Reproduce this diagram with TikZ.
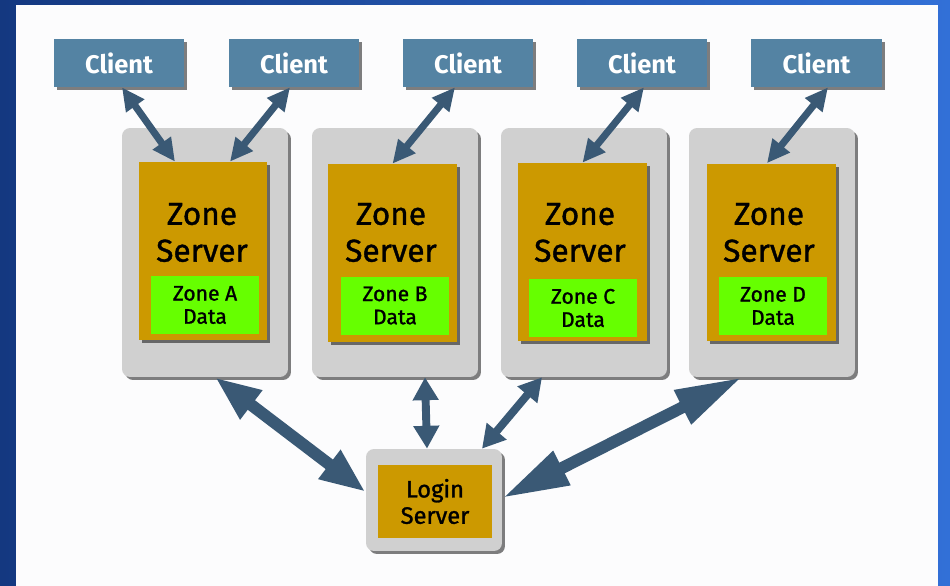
\documentclass[tikz,border=0pt]{standalone}
\usepackage{fontspec}
\setmainfont{Fira Sans}
\newfontfamily\medfont[FakeBold=1.2]{Fira Sans}
\usetikzlibrary{arrows.meta,shadows}
\definecolor{bgdark}{RGB}{20,56,128}
\definecolor{bglight}{RGB}{50,112,215}
\definecolor{clientblue}{RGB}{84,131,163}
\definecolor{arrowblue}{RGB}{58,89,117}
\definecolor{zoneorange}{RGB}{204,153,0}
\definecolor{zonegreen}{RGB}{102,255,0}
\definecolor{panelgray}{RGB}{208,208,208}
\definecolor{paper}{RGB}{252,252,253}
\begin{document}
\begin{tikzpicture}[x=0.02cm,y=-0.02cm,
  shad/.style={drop shadow={shadow xshift=0.06cm,shadow yshift=-0.06cm,opacity=0.5,fill=black}},
  client/.style={shad,fill=clientblue,text=white,inner sep=0pt,minimum width=2.62cm,minimum height=0.96cm,font=\bfseries\fontsize{14.5}{17}\selectfont},
  panel/.style={shad,fill=panelgray,rounded corners=0.16cm,minimum width=3.32cm,minimum height=4.98cm,inner sep=0pt},
  server/.style={shad,fill=zoneorange,minimum width=2.58cm,minimum height=3.56cm,inner sep=0pt},
  zonetext/.style={align=center,inner sep=0pt,text=black,font=\medfont\fontsize{18}{21}\selectfont},
  zonedata/.style={fill=zonegreen,minimum width=2.18cm,minimum height=1.16cm,inner sep=0pt,align=center,font=\medfont\fontsize{12}{13.2}\selectfont},
  loginpanel/.style={shad,fill=panelgray,rounded corners=0.16cm,minimum width=2.72cm,minimum height=2.04cm,inner sep=0pt},
  loginserver/.style={fill=zoneorange,minimum width=2.28cm,minimum height=1.46cm,inner sep=0pt,align=center,font=\medfont\fontsize{13.5}{15}\selectfont},
  link/.style={draw=arrowblue,line width=4pt,arrows={Triangle[length=13pt,width=12pt]-Triangle[length=13pt,width=12pt]}},
  midlink/.style={draw=arrowblue,line width=4.5pt,arrows={Triangle[length=13pt,width=14pt]-Triangle[length=13pt,width=14pt]}},
  biglink/.style={draw=arrowblue,line width=6.8pt,arrows={Triangle[length=26pt,width=19pt]-Triangle[length=26pt,width=19pt]}},
  hugelink/.style={draw=arrowblue,line width=6.8pt,arrows={Triangle[length=38pt,width=20pt]-Triangle[length=38pt,width=20pt]}}
]
\useasboundingbox (0,0) rectangle (950,585);
\shade[left color=bgdark,right color=bglight] (0,0) rectangle (950,585);
\fill[paper] (16,5) rectangle (938,592);

% clients
\node[client] (c1) at (119,63) {Client};
\node[client] (c2) at (294,63) {Client};
\node[client] (c3) at (468,63) {Client};
\node[client] (c4) at (642,63) {Client};
\node[client] (c5) at (816.5,63) {Client};

% zone panels
\node[panel] (pA) at (205,252.5) {};
\node[panel] (pB) at (395,252.5) {};
\node[panel] (pC) at (584,252.5) {};
\node[panel] (pD) at (772,252.5) {};

\node[server] (sA) at (203,251) {};
\node[server] (sB) at (392.5,253) {};
\node[server] (sC) at (582.5,252) {};
\node[server] (sD) at (771.5,252.5) {};

\node[zonetext] (tA) at (202,232.5) {Zone\\Server};
\node[zonetext] (tB) at (391,232.5) {Zone\\Server};
\node[zonetext] (tC) at (580,232.5) {Zone\\Server};
\node[zonetext] (tD) at (769,232.5) {Zone\\Server};

\node[zonedata] (dA) at (205,305) {Zone A\\Data};
\node[zonedata] (dB) at (395,305.5) {Zone B\\Data};
\node[zonedata] (dC) at (583,308) {Zone C\\Data};
\node[zonedata] (dD) at (773,306) {Zone D\\Data};

% login server
\node[loginpanel] (pL) at (434,500) {};
\node[loginserver] (sL) at (435,501.5) {Login\\Server};

% client links
\draw[link] ([xshift=0.06cm]c1.south) -- ([xshift=-0.56cm]sA.north);
\draw[link] ([xshift=-0.08cm]c2.south) -- ([xshift=0.54cm]sA.north);
\draw[link] ([xshift=-0.26cm]c3.south) -- (sB.north);
\draw[link] ([xshift=0.04cm]c4.south) -- (sC.north);
\draw[link] ([xshift=0.23cm]c5.south) -- ([xshift=-0.09cm]sD.north);

% login links
\draw[biglink] ([xshift=0.2cm]pA.south) -- ([yshift=0.16cm]pL.west);
\draw[midlink] ([xshift=0.6cm]pB.south) -- ([xshift=-0.14cm]pL.north);
\draw[midlink] ([xshift=-0.84cm]pC.south) -- ([xshift=0.96cm]pL.north);
\draw[hugelink] ([xshift=-0.6cm]pD.south) -- ([yshift=0.04cm]pL.east);
\end{tikzpicture}
\end{document}
